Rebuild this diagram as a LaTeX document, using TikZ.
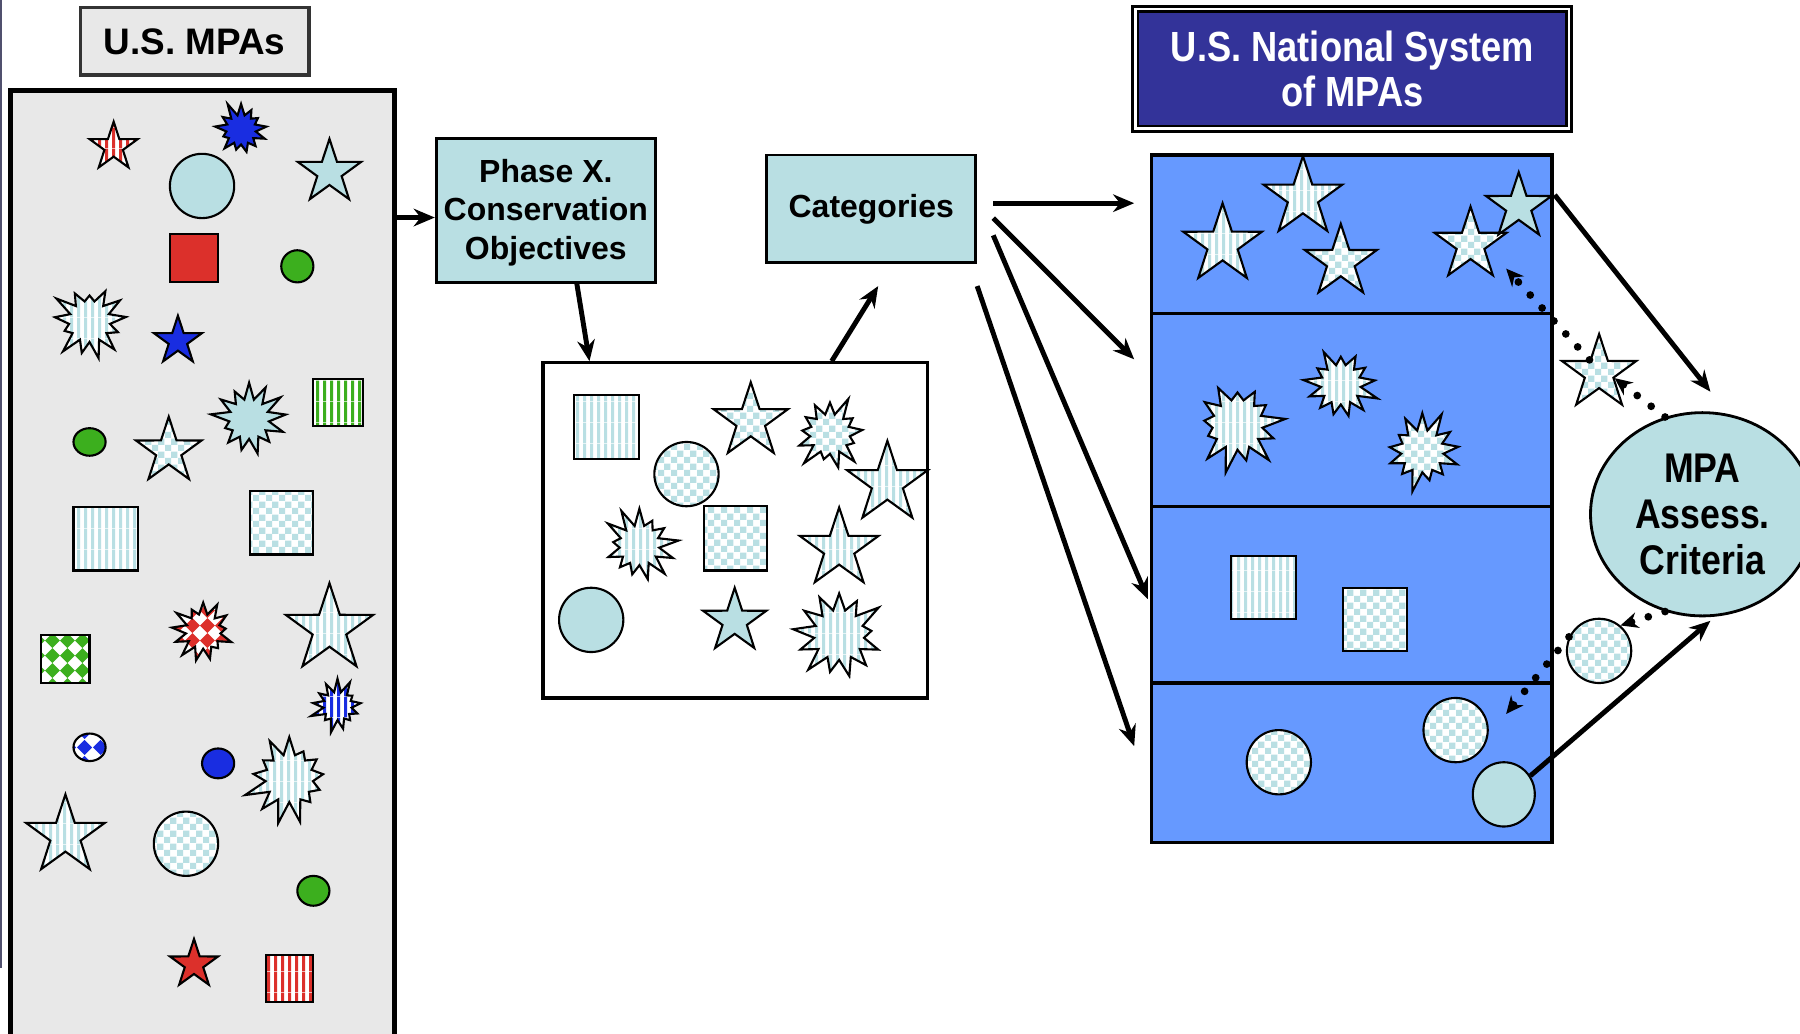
\documentclass[tikz,border=0pt]{standalone}
\usepackage{fontspec}
\setmainfont{Liberation Sans}
\newfontfamily\narrowsf[FakeStretch=0.86]{Liberation Sans}
\usetikzlibrary{shapes.geometric, shapes.symbols, arrows.meta, patterns}
\newlength\pxu
\setlength\pxu{0.1148mm}
\definecolor{mpateal}{RGB}{185,223,227}
\definecolor{panelgray}{RGB}{232,232,232}
\definecolor{navybox}{RGB}{51,51,153}
\definecolor{tierblue}{RGB}{102,153,255}
\definecolor{mpared}{RGB}{220,48,43}
\definecolor{mpagreen}{RGB}{60,175,30}
\definecolor{mpablue}{RGB}{25,45,225}
\definecolor{edgeline}{RGB}{80,80,110}
\pgfdeclarepatternformonly{vstripes}{\pgfpointorigin}{\pgfqpoint{2pt}{6pt}}{\pgfqpoint{2pt}{6pt}}{%
  \pgfpathrectangle{\pgfpointorigin}{\pgfqpoint{1pt}{6pt}}\pgfusepath{fill}}
\pgfdeclarepatternformonly{checks}{\pgfpointorigin}{\pgfqpoint{3.6pt}{3.6pt}}{\pgfqpoint{3.6pt}{3.6pt}}{%
  \pgfpathrectangle{\pgfpointorigin}{\pgfqpoint{1.8pt}{1.8pt}}%
  \pgfpathrectangle{\pgfqpoint{1.8pt}{1.8pt}}{\pgfqpoint{1.8pt}{1.8pt}}\pgfusepath{fill}}
\pgfdeclarepatternformonly{diams}{\pgfpointorigin}{\pgfqpoint{4.4pt}{4.4pt}}{\pgfqpoint{4.4pt}{4.4pt}}{%
  \pgfpathmoveto{\pgfqpoint{2.2pt}{0pt}}\pgfpathlineto{\pgfqpoint{4.4pt}{2.2pt}}%
  \pgfpathlineto{\pgfqpoint{2.2pt}{4.4pt}}\pgfpathlineto{\pgfqpoint{0pt}{2.2pt}}\pgfpathclose\pgfusepath{fill}}
\tikzstyle{shp} = [draw=black, line width=0.6pt, inner sep=0pt]
\tikzstyle{header} = [rectangle, draw=black!80, line width=1pt, fill=panelgray, font=\fontsize{10.5pt}{12pt}\selectfont\bfseries]
\tikzstyle{stage} = [rectangle, draw=black, line width=0.8pt, fill=mpateal, align=center, inner xsep=1pt, font=\fontsize{9.1pt}{11pt}\selectfont\bfseries]
\tikzstyle{tier} = [rectangle, draw=black, line width=0.9pt, fill=tierblue, minimum width=349\pxu]
\tikzstyle{flow} = [line width=1.4pt, -{Stealth[length=6pt,width=5pt]}]
\tikzstyle{probe} = [line width=2.2pt, dash pattern=on 0pt off 5pt, line cap=round, -{Stealth[length=5pt,width=4.5pt]}]
\tikzset{
  fivestar/.style={shp, star, star points=5, star point ratio=2.6, minimum size=#1*\pxu},
  burst/.style={shp, starburst, starburst points=13,
    /utils/exec={\pgfmathsetlengthmacro\bursth{0.28*#1*\pxu}\pgfmathsetlengthmacro\burstd{1.12*#1*\pxu}},
    starburst point height=\bursth, minimum size=\burstd},
  blob/.style 2 args={shp, ellipse, minimum width=#1*\pxu, minimum height=#2*\pxu},
  tile/.style 2 args={shp, rectangle, minimum width=#1*\pxu, minimum height=#2*\pxu},
  plain/.style={fill=#1},
  striped/.style={preaction={fill=white}, pattern=vstripes, pattern color=#1},
  checked/.style={preaction={fill=white}, pattern=checks, pattern color=#1},
  diamonds/.style={preaction={fill=white}, pattern=diams, pattern color=#1}
}
\begin{document}
\begin{tikzpicture}[x=0.1148mm, y=-0.1148mm]
      \useasboundingbox (0,0) rectangle (1568,900);
      \clip (0,0) rectangle (1568,900);
      \draw [edgeline, line width=0.7pt] (1,0) -- (1,843);
      % U.S. MPAs
      \node (mpahead) [header, minimum width=199\pxu, minimum height=59\pxu] at (169.5,36) {U.S. MPAs};
      \node (mpapool) [rectangle, draw=black, line width=1.4pt, fill=panelgray, minimum width=335\pxu, minimum height=826\pxu] at (176.5,492) {};
      \node (u1) [fivestar=44, striped=mpared] at (99,128) {};
      \node (u2) [burst=46, plain=mpablue, random starburst=11] at (210,113) {};
      \node (u3) [blob={56}{56}, plain=mpateal] at (176,162) {};
      \node (u4) [fivestar=58, plain=mpateal] at (287,150) {};
      \node (u5) [tile={42}{42}, plain=mpared] at (169,225) {};
      \node (u6) [blob={28}{28}, plain=mpagreen] at (259,232) {};
      \node (u7) [burst=64, striped=mpateal, random starburst=23] at (78,280) {};
      \node (u8) [fivestar=44, plain=mpablue] at (155,297) {};
      \node (u9) [tile={43}{41}, striped=mpagreen] at (294.5,350.5) {};
      \node (u10) [blob={28}{24}, plain=mpagreen] at (78,385) {};
      \node (u11) [fivestar=60, checked=mpateal] at (147,393) {};
      \node (u12) [burst=62, plain=mpateal, random starburst=37] at (217,365) {};
      \node (u13) [tile={56}{55}, striped=mpateal] at (92,469.5) {};
      \node (u14) [tile={55}{55}, checked=mpateal] at (245.5,455.5) {};
      \node (u15) [tile={42}{42}, diamonds=mpagreen] at (57,574) {};
      \node (u16) [burst=54, diamonds=mpared, random starburst=41] at (177,550) {};
      \node (u17) [fivestar=80, striped=mpateal] at (287,548) {};
      \node (u18) [burst=44, striped=mpablue, random starburst=53] at (294,615) {};
      \node (u19) [blob={28}{24}, diamonds=mpablue] at (78,651) {};
      \node (u20) [blob={28}{26}, plain=mpablue] at (190,665) {};
      \node (u21) [burst=74, striped=mpateal, random starburst=67] at (252,678) {};
      \node (u22) [fivestar=72, striped=mpateal] at (57,728) {};
      \node (u23) [blob={56}{56}, checked=mpateal] at (162,735) {};
      \node (u24) [blob={28}{26}, plain=mpagreen] at (273,776) {};
      \node (u25) [fivestar=44, plain=mpared] at (169,840) {};
      \node (u26) [tile={41}{41}, striped=mpared] at (252.5,852.5) {};
      % objectives and categories
      \node (phase) [stage, minimum width=191\pxu, minimum height=125\pxu] at (475.5,183.5) {\strut Phase X.\\Conservation\\Objectives};
      \node (cats) [stage, minimum width=182\pxu, minimum height=94\pxu] at (759,182) {\raisebox{-1pt}{Categories}};
      \node (pool) [rectangle, draw=black, line width=0.9pt, fill=white, minimum width=335\pxu, minimum height=292\pxu] at (640.5,462) {};
      \node (o1) [tile={57}{56}, striped=mpateal] at (528.5,372) {};
      \node (o2) [blob={56}{56}, checked=mpateal] at (598,413) {};
      \node (o3) [fivestar=68, checked=mpateal] at (654,367) {};
      \node (o4) [burst=62, checked=mpateal, random starburst=71] at (723,378) {};
      \node (o5) [fivestar=74, striped=mpateal] at (773,421) {};
      \node (o6) [burst=62, striped=mpateal, random starburst=83] at (557,475) {};
      \node (o7) [tile={55}{56}, checked=mpateal] at (640.5,469) {};
      \node (o8) [fivestar=72, striped=mpateal] at (731,478) {};
      \node (o9) [blob={56}{56}, plain=mpateal] at (515,540) {};
      \node (o10) [fivestar=58, plain=mpateal] at (640,541) {};
      \node (o11) [burst=78, striped=mpateal, random starburst=97] at (731,553) {};
      % national system
      \node (natl) [rectangle, fill=navybox, draw=black, line width=0.8pt, double=white, double distance=0.7pt, minimum width=378\pxu, minimum height=104\pxu, text=white, align=center, font=\narrowsf\fontsize{12pt}{12.6pt}\selectfont\bfseries] at (1178,60) {U.S. National System\\of MPAs};
      \node (tierA) [tier, minimum height=138\pxu] at (1177.5,204) {};
      \node (tierB) [tier, minimum height=168\pxu] at (1177.5,357) {};
      \node (tierC) [tier, minimum height=154\pxu] at (1177.5,518) {};
      \node (tierD) [tier, minimum height=139\pxu] at (1177.5,664.5) {};
      \node (n1) [fivestar=72, striped=mpateal] at (1065,213) {};
      \node (n2) [fivestar=72, striped=mpateal] at (1135,172) {};
      \node (n3) [fivestar=66, checked=mpateal] at (1168,228) {};
      \node (chkstar) [fivestar=66, checked=mpateal] at (1281,213) {};
      \node (topstar) [fivestar=60, plain=mpateal] at (1323,180) {};
      \node (n4) [burst=78, striped=mpateal, random starburst=13] at (1078,370) {};
      \node (n5) [burst=62, striped=mpateal, random starburst=29] at (1168,335) {};
      \node (n6) [burst=66, checked=mpateal, random starburst=47] at (1239,393) {};
      \node (n7) [tile={57}{55}, striped=mpateal] at (1100.5,511.5) {};
      \node (n8) [tile={56}{55}, checked=mpateal] at (1198,539.5) {};
      \node (n9) [blob={56}{56}, checked=mpateal] at (1114,664) {};
      \node (lowcirc) [blob={56}{56}, checked=mpateal] at (1268,636) {};
      \node (solidcirc) [blob={54}{56}, plain=mpateal] at (1310,692) {};
      \node (candstar) [fivestar=68, checked=mpateal] at (1393,325) {};
      \node (candcirc) [blob={56}{56}, checked=mpateal] at (1393,567) {};
      \node (crit) [ellipse, draw=black, line width=0.8pt, fill=mpateal, minimum width=180\pxu, minimum height=152\pxu, align=center, font=\narrowsf\fontsize{11.8pt}{13pt}\selectfont\bfseries] at (1483,448) {MPA\\Assess.\\Criteria};
      % connectors
      \coordinate (inA) at (988,177);
      \coordinate (inB) at (988,313);
      \coordinate (inC) at (1000,522);
      \coordinate (inD) at (988,650);
      \coordinate (backA) at (1312,234);
      \coordinate (backB) at (1312,622);
      \draw [flow] ([yshift=-6\pxu]mpapool.east |- phase.west) -- ([yshift=-6\pxu]phase.west);
      \draw [flow] ([xshift=27\pxu]phase.south) -- ([xshift=-127\pxu]pool.north);
      \draw [flow] ([xshift=84\pxu]pool.north) -- ([xshift=6\pxu,yshift=-19\pxu]cats.south);
      \draw [flow] ([xshift=14\pxu,yshift=5\pxu]cats.east) -- (inA);
      \draw [flow] ([xshift=14\pxu,yshift=-8\pxu]cats.east) -- (inB);
      \draw [flow] ([xshift=14\pxu,yshift=-23\pxu]cats.east) -- (inC);
      \draw [flow] ([yshift=-19\pxu]cats.south east) -- (inD);
      \draw [flow] (topstar.outer point 5) -- ([xshift=7\pxu,yshift=17\pxu]crit.north);
      \draw [flow] (solidcirc.35) -- ([xshift=7\pxu,yshift=-3\pxu]crit.south);
      \draw [probe] (crit.111) -- (candstar.inner point 4);
      \draw [probe] (candstar.inner point 1) -- (backA);
      \draw [probe] (crit.-111) -- (candcirc.50);
      \draw [probe] (candcirc.155) -- (backB);
\end{tikzpicture}
\end{document}
